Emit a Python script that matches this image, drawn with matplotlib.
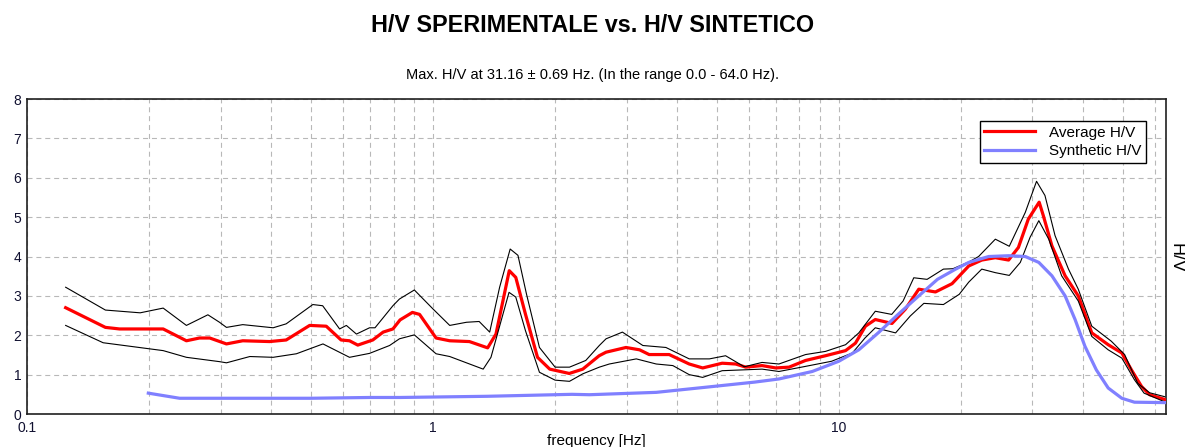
import numpy as np
import matplotlib.pyplot as plt
from matplotlib.ticker import FixedLocator, LogLocator, NullFormatter

plt.rcParams['font.family'] = ['Liberation Sans', 'DejaVu Sans']

# curva H/V media
f_media = [0.1245, 0.156, 0.169, 0.2165, 0.247, 0.266, 0.282, 0.31, 0.34, 0.396,
           0.435, 0.497, 0.546, 0.594, 0.623, 0.653, 0.711, 0.754, 0.797, 0.83,
           0.89, 0.927, 1.018, 1.10, 1.23, 1.364, 1.43, 1.542, 1.60, 1.69,
           1.81, 1.94, 2.167, 2.34, 2.568, 2.67, 2.99, 3.23, 3.41, 3.82,
           4.28, 4.62, 5.16, 5.57, 5.9, 6.47, 6.99, 7.54, 8.28, 9.27,
           10.39, 10.99, 11.63, 12.3, 13.52, 14.58, 15.74, 17.3, 19.01, 20.9,
           22.5, 24.3, 26.2, 27.7, 29.3, 31.16, 31.9, 33.5, 36.1, 38.9,
           42.0, 46.1, 49.8, 52.6, 55.7, 58.3, 63.5]
hv_media = [2.70, 2.20, 2.16, 2.16, 1.86, 1.93, 1.93, 1.78, 1.86, 1.84,
            1.88, 2.25, 2.23, 1.88, 1.86, 1.75, 1.88, 2.08, 2.16, 2.39,
            2.58, 2.53, 1.93, 1.86, 1.84, 1.68, 2.03, 3.64, 3.47, 2.54,
            1.44, 1.14, 1.03, 1.14, 1.48, 1.57, 1.69, 1.63, 1.51, 1.51,
            1.27, 1.17, 1.29, 1.27, 1.19, 1.23, 1.17, 1.19, 1.36, 1.48,
            1.61, 1.80, 2.23, 2.40, 2.30, 2.66, 3.17, 3.10, 3.31, 3.76,
            3.91, 3.97, 3.91, 4.23, 4.95, 5.38, 5.04, 4.27, 3.51, 3.00,
            2.06, 1.76, 1.55, 1.12, 0.70, 0.49, 0.37]

# limite superiore (media + dev. std)
f_sup = [0.1245, 0.156, 0.19, 0.2165, 0.247, 0.279, 0.298, 0.31, 0.34, 0.404,
         0.435, 0.506, 0.535, 0.589, 0.612, 0.648, 0.698, 0.72, 0.797, 0.827,
         0.90, 1.0, 1.10, 1.21, 1.30, 1.38, 1.46, 1.55, 1.62, 1.70,
         1.83, 2.0, 2.17, 2.38, 2.57, 2.67, 2.93, 3.29, 3.75, 4.28,
         4.8, 5.26, 5.85, 6.47, 7.12, 8.28, 9.27, 10.39, 11.2, 12.3,
         13.5, 14.4, 15.3, 16.5, 18.1, 19.1, 20.9, 22.1, 24.3, 26.3,
         28.8, 30.7, 32.2, 34.1, 36.8, 38.9, 42.0, 46.9, 50.6, 54.5,
         58.3, 63.5]
hv_sup = [3.22, 2.64, 2.57, 2.69, 2.25, 2.52, 2.33, 2.20, 2.27, 2.19,
          2.29, 2.78, 2.75, 2.16, 2.25, 2.03, 2.19, 2.19, 2.75, 2.92,
          3.15, 2.67, 2.25, 2.33, 2.35, 2.08, 3.22, 4.19, 4.03, 3.05,
          1.69, 1.19, 1.19, 1.36, 1.74, 1.91, 2.08, 1.74, 1.69, 1.40,
          1.40, 1.48, 1.20, 1.31, 1.27, 1.51, 1.59, 1.76, 2.06, 2.61,
          2.53, 2.87, 3.46, 3.42, 3.68, 3.69, 3.86, 4.00, 4.44, 4.26,
          5.12, 5.91, 5.55, 4.53, 3.68, 3.17, 2.23, 1.85, 1.51, 0.78,
          0.54, 0.44]

# limite inferiore (media - dev. std)
f_inf = [0.1245, 0.154, 0.2165, 0.247, 0.298, 0.31, 0.354, 0.404, 0.461, 0.536,
         0.623, 0.698, 0.782, 0.827, 0.90, 1.018, 1.10, 1.33, 1.39, 1.54,
         1.60, 1.69, 1.83, 2.0, 2.17, 2.34, 2.57, 2.72, 3.17, 3.55,
         3.9, 4.28, 4.62, 5.16, 5.78, 6.47, 7.12, 8.28, 9.6, 10.8,
         11.6, 12.3, 13.8, 15.0, 16.2, 18.1, 19.8, 20.9, 22.5, 24.3,
         26.3, 28.0, 29.6, 31.1, 32.9, 35.4, 38.9, 42.0, 46.1, 49.8,
         53.5, 56.5, 63.5]
hv_inf = [2.25, 1.81, 1.61, 1.44, 1.33, 1.30, 1.46, 1.44, 1.53, 1.78,
          1.44, 1.54, 1.74, 1.91, 2.01, 1.53, 1.46, 1.14, 1.44, 3.09,
          2.97, 2.12, 1.06, 0.86, 0.83, 1.02, 1.19, 1.27, 1.40, 1.27,
          1.23, 1.00, 0.93, 1.10, 1.12, 1.14, 1.08, 1.21, 1.34, 1.55,
          1.93, 2.19, 2.06, 2.49, 2.81, 2.78, 3.04, 3.35, 3.68, 3.59,
          3.52, 3.85, 4.49, 4.91, 4.44, 3.51, 2.87, 1.97, 1.63, 1.42,
          0.87, 0.53, 0.31]

# curva H/V sintetica
f_sint = [0.199, 0.2376, 0.3, 0.5, 0.7, 0.83, 1.36, 2.2, 2.43, 3.55,
          4.7, 6.2, 7.12, 8.6, 10.0, 11.2, 12.5, 14.0, 15.74, 17.5,
          19.4, 20.9, 23.4, 26.2, 28.8, 31.1, 33.5, 36.1, 38.2, 40.4,
          43.1, 46.1, 49.8, 53.5, 63.5]
hv_sint = [0.53, 0.40, 0.40, 0.40, 0.42, 0.42, 0.45, 0.50, 0.49, 0.55,
           0.68, 0.81, 0.89, 1.08, 1.34, 1.63, 2.06, 2.53, 3.00, 3.42,
           3.68, 3.85, 4.00, 4.02, 4.00, 3.85, 3.51, 3.00, 2.40, 1.72,
           1.12, 0.66, 0.40, 0.30, 0.29]

f_max, err_max = 31.16, 0.69
f_lo, f_hi = 0.0, 64.0

fig = plt.figure(figsize=(11.85, 4.47), dpi=100)
ax = fig.add_axes([0.0228, 0.0738, 0.9612, 0.7047])

ax.plot(f_media, hv_media, color='#ff0000', lw=2.3, label='Average H/V', zorder=3)
ax.plot(f_sup, hv_sup, color='black', lw=0.8, zorder=4)
ax.plot(f_inf, hv_inf, color='black', lw=0.8, zorder=4)
ax.plot(f_sint, hv_sint, color='#8080ff', lw=2.3, label='Synthetic H/V', zorder=5)

ax.set_xscale('log')
ax.set_xlim(0.1, 64)
ax.set_ylim(0, 8)
ax.xaxis.set_major_locator(FixedLocator([0.1, 1, 10]))
ax.set_xticklabels(['0.1', '1', '10'])
ax.xaxis.set_minor_locator(LogLocator(base=10, subs=np.arange(2, 10)))
ax.xaxis.set_minor_formatter(NullFormatter())
ax.set_yticks(range(0, 9))
ax.tick_params(which='both', length=0, labelsize=10, colors='#101030')
ax.tick_params(axis='y', pad=4)
ax.tick_params(axis='x', pad=5)

ax.grid(True, which='both', color='#b8b8b8', lw=0.8, linestyle=(0, (4.5, 3.5)))
ax.set_axisbelow(True)
for s in ax.spines.values():
    s.set_linewidth(1.2)
    s.set_color('#202020')

leg = ax.legend(loc='upper right', bbox_to_anchor=(0.982, 0.93), borderaxespad=0,
                fancybox=False, edgecolor='black', framealpha=1, fontsize=11,
                handlelength=3.3, handletextpad=0.9, labelspacing=0.3,
                borderpad=0.3)
leg.get_frame().set_linewidth(1.0)

fig.text(0.5, 1 - 25 / 447, 'H/V SPERIMENTALE vs. H/V SINTETICO',
         ha='center', va='center', fontsize=16.8, fontweight='bold')
fig.text(0.5, 1 - 75 / 447,
         f'Max. H/V at {f_max:.2f} ± {err_max:.2f} Hz. (In the range {f_lo:.1f} - {f_hi:.1f} Hz).',
         ha='center', va='center', fontsize=10.5)
fig.text(0.5035, 2 / 447, 'frequency [Hz]', ha='center', va='baseline', fontsize=11)
fig.text(1176 / 1185, 1 - 258 / 447, 'H/V', ha='center', va='center',
         rotation=270, fontsize=13)

fig.savefig('out.png', dpi=100)
